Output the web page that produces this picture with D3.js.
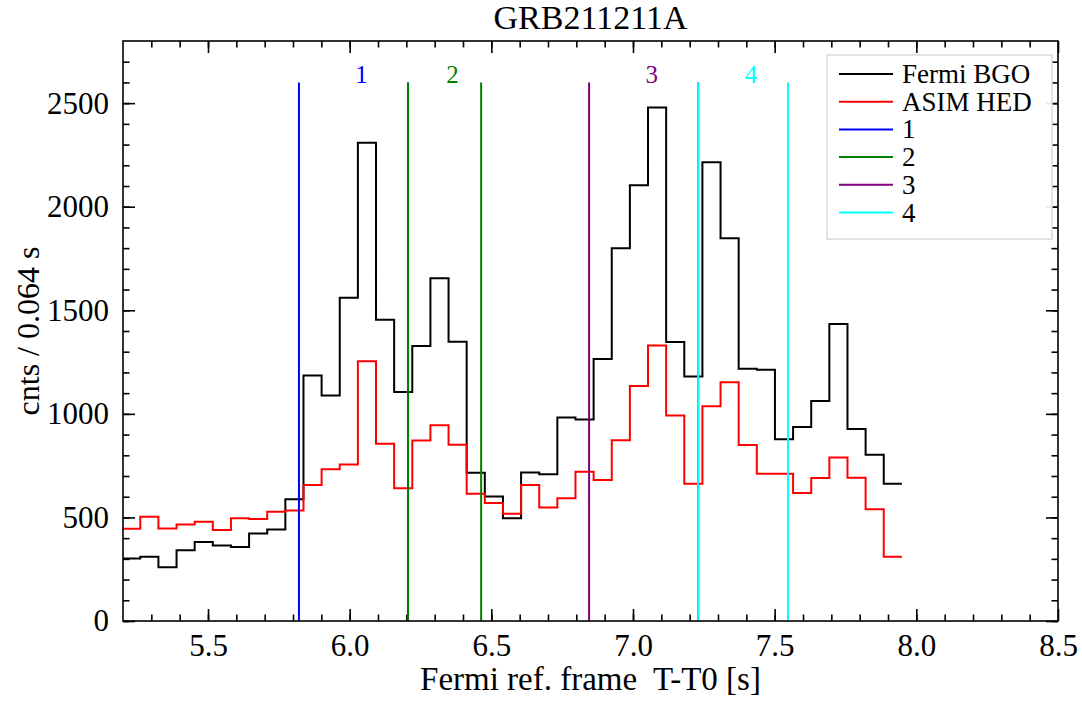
<!DOCTYPE html>
<html>
<head>
<meta charset="utf-8">
<script src="https://cdn.jsdelivr.net/npm/d3@7"></script>
<style>
  html, body { margin: 0; padding: 0; background: #fff; }
  svg { display: block; }
  text { font-family: "Liberation Serif", "Times New Roman", serif; white-space: pre; }
</style>
</head>
<body>
<svg id="chart" width="1082" height="707"></svg>
<script>
// ---------------- data ----------------
const binStarts = [5.197, 5.261, 5.325, 5.389, 5.453, 5.517, 5.581, 5.645, 5.709, 5.773,
  5.837, 5.901, 5.965, 6.029, 6.093, 6.157, 6.221, 6.285, 6.349, 6.413,
  6.477, 6.541, 6.605, 6.669, 6.733, 6.797, 6.861, 6.925, 6.989, 7.053,
  7.117, 7.181, 7.245, 7.309, 7.373, 7.437, 7.501, 7.565, 7.629, 7.693,
  7.757, 7.821, 7.885];
const binEnd = 7.949;
const fermiBGO = [302, 310, 259, 342, 381, 365, 357, 423, 442, 588,
  1185, 1089, 1560, 2309, 1454, 1105, 1327, 1655, 1348, 716,
  601, 496, 717, 708, 982, 973, 1265, 1800, 2104, 2479,
  1347, 1180, 2215, 1848, 1218, 1213, 877, 936, 1062, 1434,
  927, 803, 663];
const asimHED = [445, 503, 447, 466, 479, 439, 496, 493, 527, 533,
  657, 732, 755, 1254, 856, 641, 871, 945, 851, 614,
  570, 518, 657, 548, 593, 720, 681, 873, 1135, 1330,
  992, 662, 1037, 1152, 850, 711, 711, 618, 690, 789,
  692, 540, 310];
const regionNames = ["1", "2", "3", "4"];
const regionStart = [5.821, 6.206, 6.845, 7.230];
const regionEnd = [6.206, 6.464, 7.230, 7.547];
const regionColors = ["#0000ff", "#008000", "#800080", "#00ffff"];
const regionLineTop = 2600;
const seriesNames = ["Fermi BGO", "ASIM HED"];
const seriesColors = ["#000000", "#ff0000"];
const xDomain = [5.2, 8.5];
const yDomain = [0, 2800];
const xMajorTicks = [5.5, 6.0, 6.5, 7.0, 7.5, 8.0, 8.5];
const yMajorTicks = [0, 500, 1000, 1500, 2000, 2500];
const titleText = "GRB211211A";
const xLabelText = "Fermi ref. frame  T-T0 [s]";
const yLabelText = "cnts / 0.064 s";

// ---------------- layout ----------------
const L = 123, R = 1058, T = 41, B = 621;
const svg = d3.select("#chart");
const x = d3.scaleLinear().domain(xDomain).range([L, R]);
const y = d3.scaleLinear().domain(yDomain).range([B, T]);

svg.append("defs").append("clipPath").attr("id", "plotclip")
  .append("rect").attr("x", L).attr("y", T).attr("width", R - L).attr("height", B - T);

// minor ticks
const xMinor = d3.range(53, 85).map(d => d / 10);
const yMinor = d3.range(0, 2800, 100);

function styleAxis(g) {
  g.select(".domain").remove();
  g.selectAll("line").attr("stroke", "#000").attr("stroke-width", 1.6);
  g.selectAll("text").attr("font-family", "Liberation Serif, Times New Roman, serif")
    .attr("font-size", 31).attr("fill", "#000");
}

// bottom
svg.append("g").attr("transform", `translate(0,${B})`)
  .call(d3.axisBottom(x).tickValues(xMinor).tickFormat("").tickSizeInner(-6.5).tickSizeOuter(0)).call(styleAxis);
svg.append("g").attr("transform", `translate(0,${B})`)
  .call(d3.axisBottom(x).tickValues(xMajorTicks).tickFormat(d3.format(".1f")).tickSizeInner(-12).tickSizeOuter(0).tickPadding(13)).call(styleAxis);
// top
svg.append("g").attr("transform", `translate(0,${T})`)
  .call(d3.axisTop(x).tickValues(xMinor).tickFormat("").tickSizeInner(-6.5).tickSizeOuter(0)).call(styleAxis);
svg.append("g").attr("transform", `translate(0,${T})`)
  .call(d3.axisTop(x).tickValues(xMajorTicks).tickFormat("").tickSizeInner(-12).tickSizeOuter(0)).call(styleAxis);
// left
svg.append("g").attr("transform", `translate(${L},0)`)
  .call(d3.axisLeft(y).tickValues(yMinor).tickFormat("").tickSizeInner(-6.5).tickSizeOuter(0)).call(styleAxis);
svg.append("g").attr("transform", `translate(${L},0)`)
  .call(d3.axisLeft(y).tickValues(yMajorTicks).tickFormat(d3.format("d")).tickSizeInner(-12).tickSizeOuter(0).tickPadding(14)).call(styleAxis);
// right
svg.append("g").attr("transform", `translate(${R},0)`)
  .call(d3.axisRight(y).tickValues(yMinor).tickFormat("").tickSizeInner(-6.5).tickSizeOuter(0)).call(styleAxis);
svg.append("g").attr("transform", `translate(${R},0)`)
  .call(d3.axisRight(y).tickValues(yMajorTicks).tickFormat("").tickSizeInner(-12).tickSizeOuter(0)).call(styleAxis);

// ---------------- step series ----------------
const plot = svg.append("g").attr("clip-path", "url(#plotclip)");
const line = d3.line().x(d => x(d[0])).y(d => y(d[1])).curve(d3.curveStepAfter);
[fermiBGO, asimHED].forEach((vals, i) => {
  const pts = binStarts.map((t, k) => [t, vals[k]]);
  pts.push([binEnd, vals[vals.length - 1]]);
  plot.append("path").attr("d", line(pts)).attr("fill", "none")
    .attr("stroke", seriesColors[i]).attr("stroke-width", 2);
});

// ---------------- region lines ----------------
regionNames.forEach((name, i) => {
  [regionStart[i], regionEnd[i]].forEach(t => {
    plot.append("line").attr("x1", x(t)).attr("x2", x(t))
      .attr("y1", y(0)).attr("y2", y(regionLineTop))
      .attr("stroke", regionColors[i]).attr("stroke-width", 2);
  });
  svg.append("text").attr("x", x((regionStart[i] + regionEnd[i]) / 2) + 8)
    .attr("y", y(regionLineTop) + 1).attr("text-anchor", "middle")
    .attr("font-size", 25).attr("fill", regionColors[i]).text(name);
});

// frame
svg.append("rect").attr("x", L).attr("y", T).attr("width", R - L).attr("height", B - T)
  .attr("fill", "none").attr("stroke", "#000").attr("stroke-width", 1.6);

// ---------------- legend ----------------
const legNames = seriesNames.concat(regionNames);
const legColors = seriesColors.concat(regionColors);
const lg = svg.append("g");
lg.append("rect").attr("x", 827).attr("y", 55).attr("width", 225).attr("height", 184)
  .attr("fill", "#fff").attr("fill-opacity", 0.9).attr("stroke", "#d9d9d9").attr("stroke-width", 1.5);
legNames.forEach((n, i) => {
  const cy = 74 + i * 27.7;
  lg.append("line").attr("x1", 839).attr("x2", 893).attr("y1", cy).attr("y2", cy)
    .attr("stroke", legColors[i]).attr("stroke-width", 2);
  lg.append("text").attr("x", 902).attr("y", cy + 9).attr("font-size", 27).attr("fill", "#000").text(n);
});

// ---------------- titles ----------------
svg.append("text").attr("x", (L + R) / 2).attr("y", 29).attr("text-anchor", "middle")
  .attr("font-size", 34).attr("fill", "#000").text(titleText);
svg.append("text").attr("x", (L + R) / 2).attr("y", 690).attr("text-anchor", "middle")
  .attr("xml:space", "preserve")
  .attr("font-size", 33).attr("fill", "#000").text(xLabelText);
svg.append("text").attr("transform", `translate(39,${(T + B) / 2}) rotate(-90)`)
  .attr("text-anchor", "middle").attr("font-size", 32).attr("fill", "#000").text(yLabelText);
</script>
</body>
</html>
